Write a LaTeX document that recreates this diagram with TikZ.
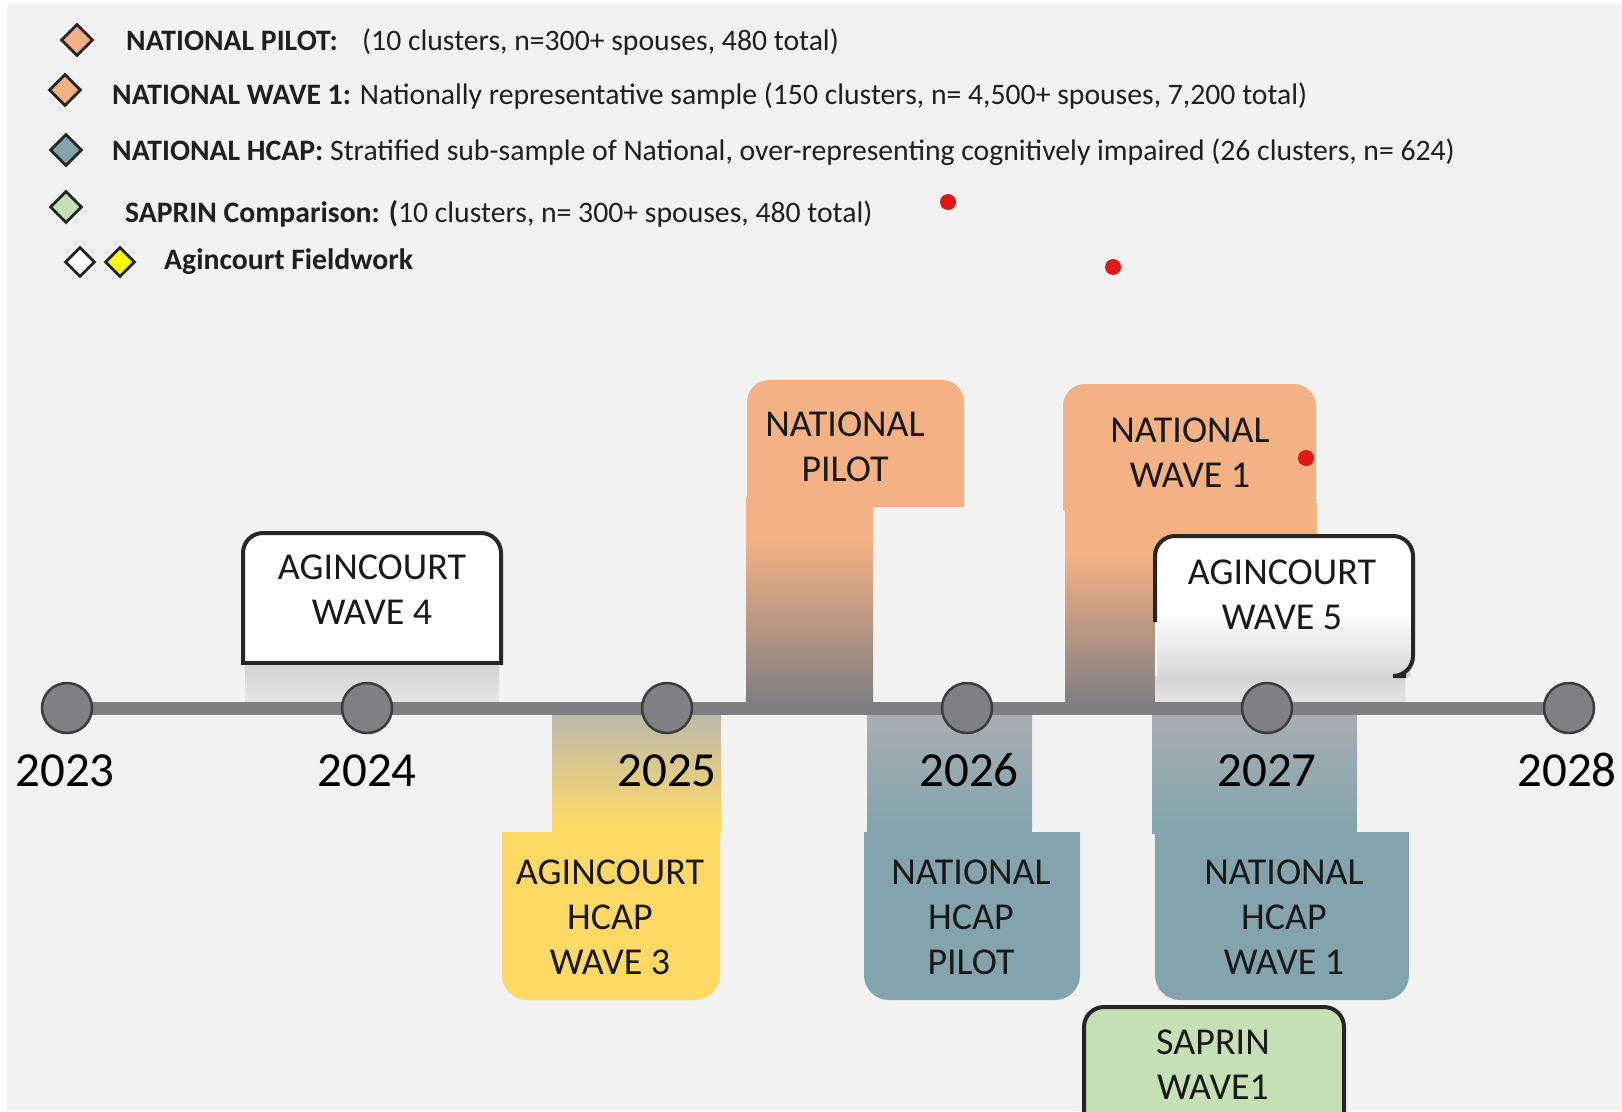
\documentclass[tikz,border=0pt]{standalone}
\usepackage{fontspec}
\setmainfont{Carlito}
\usetikzlibrary{shapes.geometric}
\definecolor{bg}{HTML}{F2F2F2}
\definecolor{orng}{HTML}{F4B183}
\definecolor{yel}{HTML}{FFD966}
\definecolor{blu}{HTML}{84A4AD}
\definecolor{grn}{HTML}{C5E0B4}
\definecolor{linegray}{HTML}{7F7F82}
\definecolor{dotgray}{HTML}{7F7F84}
\definecolor{edge}{HTML}{262626}
\definecolor{reddot}{HTML}{E01818}
\definecolor{brightyel}{HTML}{FFFF00}
\definecolor{stemtop}{HTML}{A9AEB1}
\definecolor{beige}{HTML}{BCB9AC}
\definecolor{shadetop}{HTML}{D2D2D2}
\definecolor{shadebot}{HTML}{E4E4E4}
\begin{document}
\begin{tikzpicture}[x=1pt,y=-1pt,
  boxtext/.style={font=\fontsize{38}{45}\selectfont, align=center, text=black!90, inner sep=0pt},
  yeartext/.style={font=\fontsize{49}{54}\selectfont, text=black, anchor=base, inner sep=0pt},
  legtext/.style={font=\fontsize{29.7}{32}\selectfont, text=black!88, anchor=base west, inner sep=0pt},
  legdia/.style={diamond, aspect=1, minimum size=32pt, inner sep=0pt, draw=edge, line width=2.8pt},
  yeardot/.style={circle, minimum size=50pt, inner sep=0pt, fill=dotgray, draw=edge!90, line width=2.5pt},
  redspot/.style={circle, minimum size=16pt, inner sep=0pt, fill=reddot},
  framebox/.style={draw=edge, line width=4pt, rounded corners=20pt},
]
\useasboundingbox (0,0) rectangle (1622,1111);
\fill[white] (0,0) rectangle (1622,1111);
\fill[bg] (7,3) rectangle (1622,1111);

% ---------- legend ----------
\node[legdia, fill=orng] (d1) at (77,40) {};
\node[legtext] (l1a) at (126,50) {\bfseries NATIONAL PILOT:};
\node[legtext] (l1b) at (362,50) {(10 clusters, n=300+ spouses, 480 total)};
\node[legdia, fill=orng] (d2) at (65,90) {};
\node[legtext] (l2) at (112,104) {\textbf{NATIONAL WAVE 1:} Nationally representative sample (150 clusters, n= 4,500+ spouses, 7,200 total)};
\node[legdia, fill=blu] (d3) at (66,150) {};
\node[legtext] (l3) at (112,160) {\textbf{NATIONAL HCAP:} Stratified sub-sample of National, over-representing cognitively impaired (26 clusters, n= 624)};
\node[legdia, fill=grn] (d4) at (66,207) {};
\node[legtext] (l4) at (125,222) {\textbf{SAPRIN Comparison: (}10 clusters, n= 300+ spouses, 480 total)};
\node[legdia, fill=white, minimum size=30pt] (d5) at (80,262) {};
\node[legdia, fill=brightyel, minimum size=30pt] (d6) at (120,262) {};
\node[legtext] (l5) at (164,269) {\bfseries Agincourt Fieldwork};

\node[redspot] (r1) at (948,202) {};
\node[redspot] (r2) at (1113,267) {};

% ---------- upper boxes ----------
% National pilot
\fill[orng] (746,498) rectangle (873,541);
\shade[top color=orng, bottom color=linegray] (746,540) rectangle (873,703);
\fill[orng, rounded corners=22pt] (747,507) -- (747,380) -- (964,380) -- (964,507);
\node[boxtext] (np) at (845,446.5) {NATIONAL\\PILOT};

% National wave 1
\fill[orng] (1065,503) rectangle (1317,556);
\shade[top color=orng, bottom color=linegray] (1065,555) rectangle (1317,703);
\fill[orng, rounded corners=22pt] (1063,510) -- (1063,384) -- (1316,384) -- (1316,510);
\node[boxtext] (nw) at (1190,452.5) {NATIONAL\\WAVE 1};
\node[redspot] (r3) at (1306,458) {};

% Agincourt wave 4
\shade[top color=shadetop, bottom color=shadebot] (245,662) rectangle (499,703);
\fill[white, rounded corners=20pt] (243,663) -- (243,533) -- (501,533) -- (501,663);
\draw[framebox] (243,663) -- (243,533) -- (501,533) -- (501,663);
\draw[edge, line width=4pt, line cap=rect] (243,663) -- (501,663);
\node[boxtext] (a4) at (372,590) {AGINCOURT\\WAVE 4};

% Agincourt wave 5
\shade[top color=shadetop, bottom color=shadebot] (1155,675) rectangle (1405,703);
\fill[white, rounded corners=20pt] (1155,676) -- (1155,536) -- (1413,536) -- (1413,676);
\shade[top color=white, bottom color=shadetop!90] (1157,612) rectangle (1411,676);
\draw[framebox] (1155,622) -- (1155,536) -- (1413,536) -- (1413,676) -- (1406,676);
\node[boxtext] (a5) at (1282,594.5) {AGINCOURT\\WAVE 5};

% ---------- lower stems ----------
\shade[top color=beige, bottom color=yel] (552,714) rectangle (721,826);
\fill[yel] (552,825) rectangle (721,834);
\shade[top color=stemtop, bottom color=blu] (867,714) rectangle (1032,826);
\fill[blu] (867,825) rectangle (1032,834);
\shade[top color=stemtop, bottom color=blu] (1152,714) rectangle (1357,826);
\fill[blu] (1152,825) rectangle (1357,834);

% ---------- timeline ----------
\coordinate (tstart) at (67,708);
\coordinate (tend) at (1569,708);
\draw[linegray, line width=13pt] (tstart) -- (tend);
\node[yeardot] (c2023) at (67,708) {};
\node[yeardot] (c2024) at (367,708) {};
\node[yeardot] (c2025) at (667,708) {};
\node[yeardot] (c2026) at (967,708) {};
\node[yeardot] (c2027) at (1267,708) {};
\node[yeardot] (c2028) at (1569,708) {};

% years
\node[yeartext] (y2023) at (65,786) {2023};
\node[yeartext] (y2024) at (367,786) {2024};
\node[yeartext] (y2025) at (667,786) {2025};
\node[yeartext] (y2026) at (969,786) {2026};
\node[yeartext] (y2027) at (1267,786) {2027};
\node[yeartext] (y2028) at (1567,786) {2028};

% ---------- lower boxes ----------
\fill[yel, rounded corners=25pt] (502,832) -- (502,1000) -- (720,1000) -- (720,832);
\node[boxtext] (ah3) at (610,917) {AGINCOURT\\HCAP\\WAVE 3};

\fill[blu, rounded corners=25pt] (864,832) -- (864,1000) -- (1080,1000) -- (1080,832);
\node[boxtext] (nhp) at (971,917) {NATIONAL\\HCAP\\PILOT};

\fill[blu, rounded corners=25pt] (1155,832) -- (1155,1000) -- (1409,1000) -- (1409,832);
\node[boxtext] (nh1) at (1284,917) {NATIONAL\\HCAP\\WAVE 1};

\fill[grn, rounded corners=20pt] (1084,1116) -- (1084,1007) -- (1344,1007) -- (1344,1116);
\draw[framebox] (1084,1116) -- (1084,1007) -- (1344,1007) -- (1344,1116);
\node[boxtext] (sw) at (1213,1064.5) {SAPRIN\\WAVE1};
\end{tikzpicture}
\end{document}
